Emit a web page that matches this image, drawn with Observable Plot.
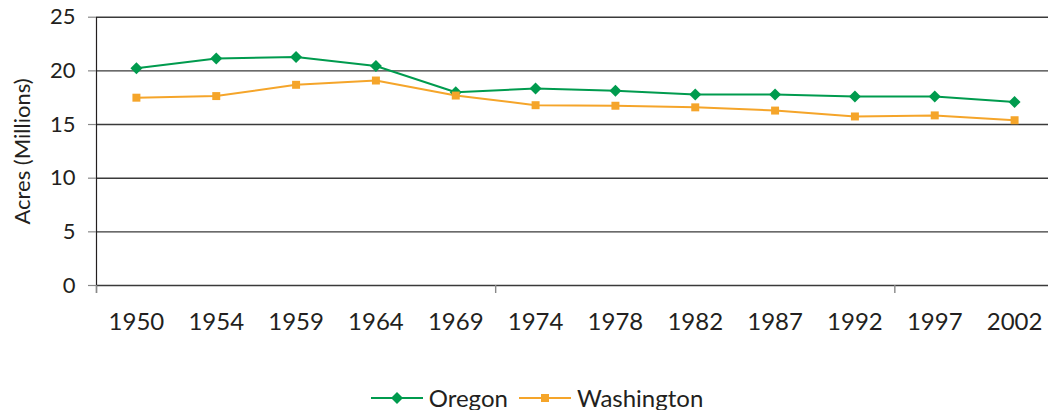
<!DOCTYPE html>
<html>
<head>
<meta charset="utf-8">
<script src="https://cdn.jsdelivr.net/npm/d3@7"></script>
<script src="https://cdn.jsdelivr.net/npm/@observablehq/plot@0.6"></script>
<style>
  body { margin: 0; background: #fff; font-family: Lato, sans-serif; color: #231f20; }
  #chart svg { display: block; }
  #legend { display: flex; justify-content: center; align-items: center; height: 30px; padding-left: 26px; font-size: 24px; line-height: 30px; }
  .item { display: flex; align-items: center; }
  .item svg { margin-right: 6px; }
  .item + .item { margin-left: 11px; }
</style>
</head>
<body>
<div id="chart"></div>
<div id="legend"></div>
<script>
// ---- data ----
const years = ["1950", "1954", "1959", "1964", "1969", "1974", "1978", "1982", "1987", "1992", "1997", "2002"];
const oregon = [20.25, 21.15, 21.3, 20.45, 18.0, 18.35, 18.15, 17.8, 17.8, 17.6, 17.6, 17.1];
const washington = [17.5, 17.65, 18.7, 19.1, 17.7, 16.8, 16.75, 16.6, 16.3, 15.75, 15.85, 15.4];
const yTicks = [0, 5, 10, 15, 20, 25];
const tickYears = ["1950", "1974", "1997"]; // category boundaries carrying x tick marks
const seriesNames = ["Oregon", "Washington"];
const seriesColors = ["#009b4e", "#f5a52a"];
const yTitle = "Acres (Millions)";

const data = years.flatMap((yr, i) => [
  {year: yr, series: seriesNames[0], value: oregon[i]},
  {year: yr, series: seriesNames[1], value: washington[i]}
]);

const W = 1048, H = 383;
const xRange = [96, 1054];
const step = (xRange[1] - xRange[0]) / years.length;

const chart = Plot.plot({
  width: W,
  height: H,
  marginLeft: 96,
  marginRight: 0,
  marginTop: 17,
  marginBottom: H - 285,
  x: {type: "point", domain: years, range: xRange, padding: 0.5, round: false},
  y: {domain: [0, 25], range: [285, 16.7]},
  color: {domain: seriesNames, range: seriesColors},
  style: {fontFamily: "Lato, sans-serif", fontSize: "24px", color: "#231f20", background: "white", overflow: "visible"},
  marks: [
    Plot.ruleY(yTicks, {stroke: "#3a3a3a", strokeWidth: 1.4}),
    Plot.frame({anchor: "left", stroke: "#231f20", strokeWidth: 1.2, insetBottom: -7}),
    Plot.axisY(yTicks, {tickSize: 8, tickPadding: 13, stroke: "#888", strokeWidth: 1.2, fontSize: 22, label: null}),
    Plot.axisX({tickSize: 0, tickPadding: 27, fontSize: 24, label: null}),
    Plot.ruleX(tickYears, {x: d => d, dx: -step / 2, y1: 0, y2: 0, insetBottom: -8, stroke: "#888", strokeWidth: 1.4}),
    Plot.text([yTitle], {frameAnchor: "left", dx: -74, rotate: -90, textAnchor: "middle", fontSize: 22, fill: "#231f20"}),
    Plot.line(data, {x: "year", y: "value", stroke: "series", strokeWidth: 2}),
    Plot.dot(data.filter(d => d.series === seriesNames[0]), {x: "year", y: "value", fill: "series", symbol: "diamond2", r: 5.4}),
    Plot.dot(data.filter(d => d.series === seriesNames[1]), {x: "year", y: "value", fill: "series", symbol: "square", r: 4.5})
  ]
});
document.getElementById("chart").appendChild(chart);

// ---- legend ----
const legend = document.getElementById("legend");
seriesNames.forEach((name, i) => {
  const item = document.createElement("div");
  item.className = "item";
  const c = seriesColors[i];
  const marker = i === 0
    ? `<path d="M26,4 L32,10 L26,16 L20,10 Z" fill="${c}"/>`
    : `<rect x="22" y="6" width="8" height="8" fill="${c}"/>`;
  item.innerHTML = `<svg width="52" height="20"><line x1="0" x2="52" y1="10" y2="10" stroke="${c}" stroke-width="2"/>${marker}</svg><span>${name}</span>`;
  legend.appendChild(item);
});
</script>
</body>
</html>
